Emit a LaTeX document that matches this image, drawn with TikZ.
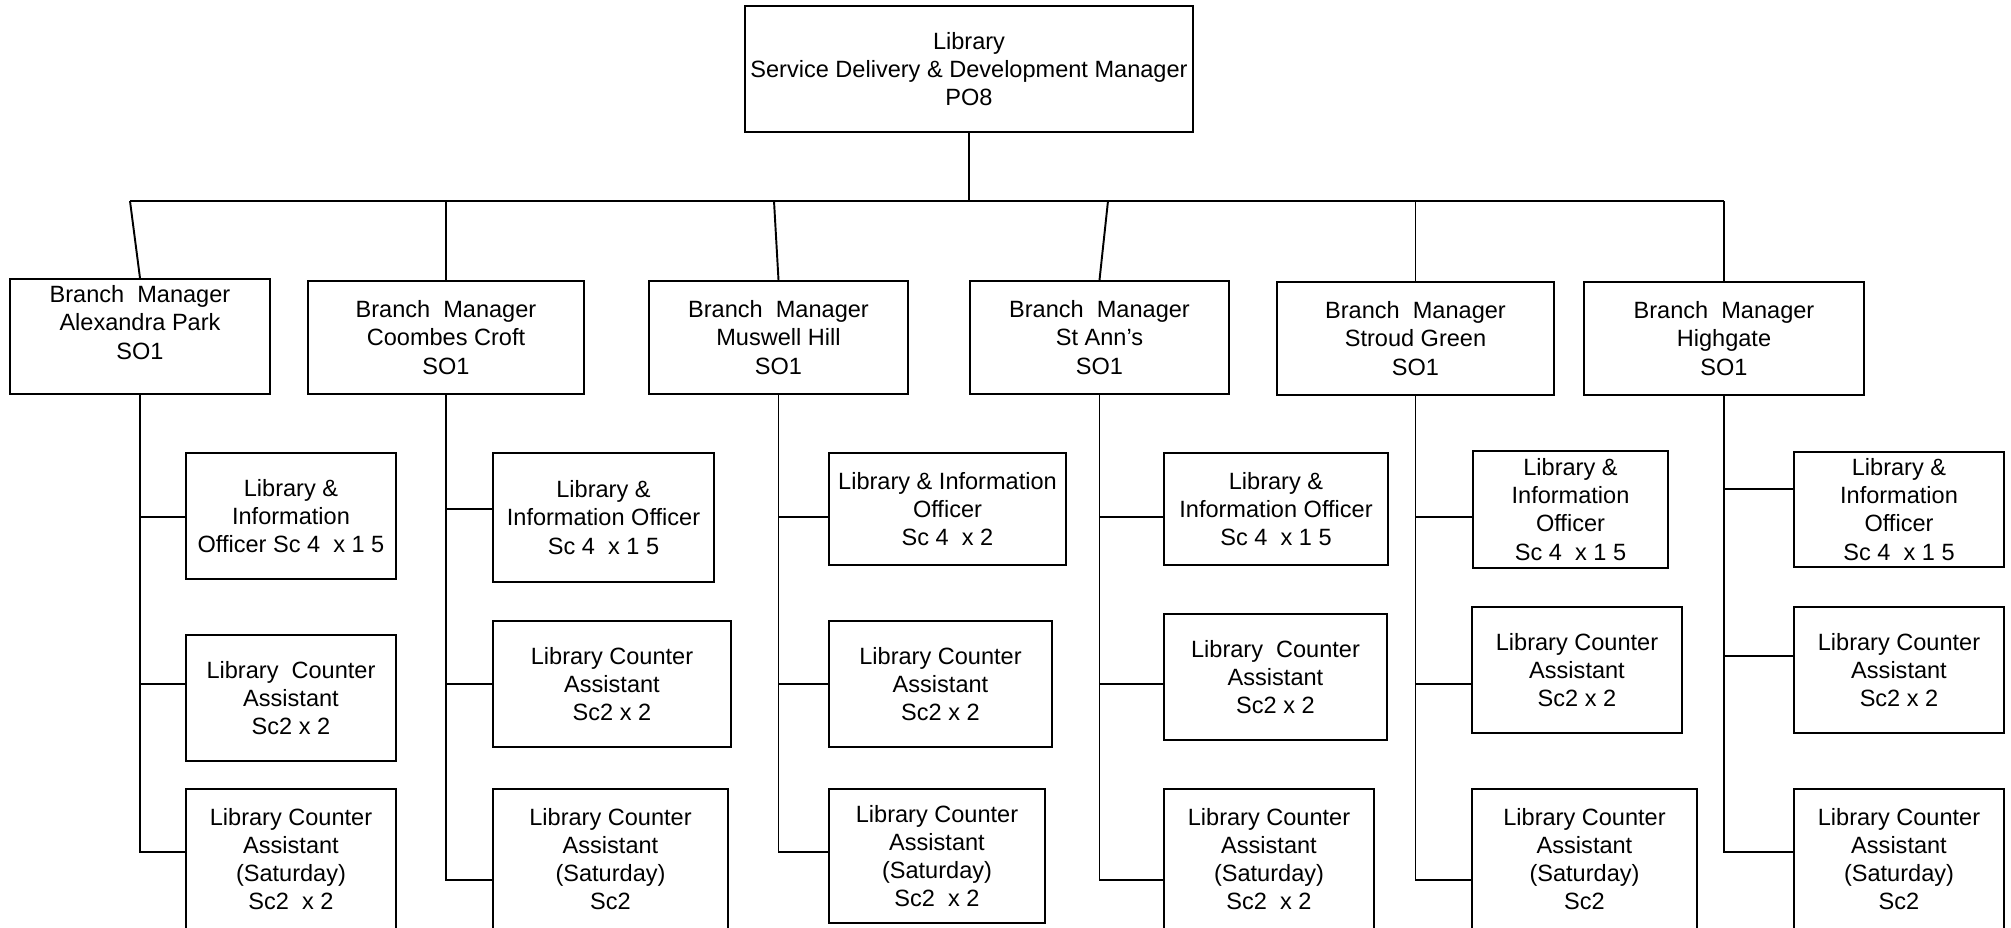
\documentclass[tikz,border=0pt]{standalone}
\usepackage{fontspec}
\setmainfont{Liberation Sans}
\begin{document}
\begin{tikzpicture}[
        post/.style={draw, line width=0.55pt, align=center, inner sep=0pt,
            font=\fontsize{6.7pt}{8pt}\selectfont},
        link/.style={line width=0.55pt}]
        \useasboundingbox (0,0) rectangle (20.11,-9.28);
        \clip (0,0) rectangle (20.11,-9.28);

        % top post
        \node [post, minimum width=4.48cm, minimum height=1.26cm] (lib) at (9.69,-0.69)
            {Library\\Service Delivery \& Development Manager\\PO8};

        % branch managers
        \node [post, minimum width=2.60cm, minimum height=1.15cm] (b1) at (1.40,-3.365)
            {Branch\ \ Manager\\Alexandra Park\\SO1\\\mbox{}};
        \node [post, minimum width=2.76cm, minimum height=1.13cm] (b2) at (4.46,-3.375)
            {Branch\ \ Manager\\Coombes Croft\\SO1};
        \node [post, minimum width=2.59cm, minimum height=1.13cm] (b3) at (7.785,-3.375)
            {Branch\ \ Manager\\Muswell Hill\\SO1};
        \node [post, minimum width=2.59cm, minimum height=1.13cm] (b4) at (10.995,-3.375)
            {Branch\ \ Manager\\St Ann’s\\SO1};
        \node [post, minimum width=2.77cm, minimum height=1.13cm] (b5) at (14.155,-3.385)
            {Branch\ \ Manager\\Stroud Green\\SO1};
        \node [post, minimum width=2.80cm, minimum height=1.13cm] (b6) at (17.24,-3.385)
            {Branch\ \ Manager\\Highgate\\SO1};

        % Alexandra Park
        \node [post, minimum width=2.10cm, minimum height=1.26cm] (l1) at (2.91,-5.16)
            {Library \&\\Information\\Officer Sc 4\ \ x 1 5};
        \node [post, minimum width=2.10cm, minimum height=1.26cm] (c1) at (2.91,-6.98)
            {Library\ \ Counter\\Assistant\\Sc2 x 2};
        \node [post, minimum width=2.10cm, minimum height=1.68cm] (s1) at (2.91,-8.73)
            {Library Counter\\Assistant\\(Saturday)\\Sc2\ \ x 2\\\mbox{}};

        % Coombes Croft
        \node [post, minimum width=2.21cm, minimum height=1.29cm] (l2) at (6.035,-5.175)
            {Library \&\\Information Officer\\Sc 4\ \ x 1 5};
        \node [post, minimum width=2.38cm, minimum height=1.26cm] (c2) at (6.12,-6.84)
            {Library Counter\\Assistant\\Sc2 x 2};
        \node [post, minimum width=2.35cm, minimum height=1.68cm] (s2) at (6.105,-8.73)
            {Library Counter\\Assistant\\(Saturday)\\Sc2\\\mbox{}};

        % Muswell Hill
        \node [post, minimum width=2.37cm, minimum height=1.12cm] (l3) at (9.475,-5.09)
            {Library \& Information\\Officer\\Sc 4\ \ x 2};
        \node [post, minimum width=2.23cm, minimum height=1.26cm] (c3) at (9.405,-6.84)
            {Library Counter\\Assistant\\Sc2 x 2};
        \node [post, minimum width=2.16cm, minimum height=1.34cm] (s3) at (9.37,-8.56)
            {Library Counter\\Assistant\\(Saturday)\\Sc2\ \ x 2};

        % St Ann's
        \node [post, minimum width=2.24cm, minimum height=1.12cm] (l4) at (12.76,-5.09)
            {Library \&\\Information Officer\\Sc 4\ \ x 1 5};
        \node [post, minimum width=2.23cm, minimum height=1.26cm] (c4) at (12.755,-6.77)
            {Library\ \ Counter\\Assistant\\Sc2 x 2};
        \node [post, minimum width=2.10cm, minimum height=1.68cm] (s4) at (12.69,-8.73)
            {Library Counter\\Assistant\\(Saturday)\\Sc2\ \ x 2\\\mbox{}};

        % Stroud Green
        \node [post, minimum width=1.95cm, minimum height=1.17cm] (l5) at (15.705,-5.095)
            {Library \&\\Information\\Officer\\Sc 4\ \ x 1 5};
        \node [post, minimum width=2.10cm, minimum height=1.26cm] (c5) at (15.77,-6.70)
            {Library Counter\\Assistant\\Sc2 x 2};
        \node [post, minimum width=2.25cm, minimum height=1.68cm] (s5) at (15.845,-8.73)
            {Library Counter\\Assistant\\(Saturday)\\Sc2\\\mbox{}};

        % Highgate
        \node [post, minimum width=2.10cm, minimum height=1.15cm] (l6) at (18.99,-5.095)
            {Library \&\\Information\\Officer\\Sc 4\ \ x 1 5};
        \node [post, minimum width=2.10cm, minimum height=1.26cm] (c6) at (18.99,-6.70)
            {Library Counter\\Assistant\\Sc2 x 2};
        \node [post, minimum width=2.10cm, minimum height=1.68cm] (s6) at (18.99,-8.73)
            {Library Counter\\Assistant\\(Saturday)\\Sc2\\\mbox{}};

        % bus
        \coordinate (j1) at (1.30,-2.01);
        \coordinate (j2) at (4.46,-2.01);
        \coordinate (j3) at (7.74,-2.01);
        \coordinate (j4) at (11.08,-2.01);
        \coordinate (j5) at (14.155,-2.01);
        \coordinate (j6) at (17.24,-2.01);
        \draw [link] (lib.south)--(lib.south |- j1);
        \draw [link] (j1)--(j6);
        \foreach \j/\b in {j1/b1,j2/b2,j3/b3,j4/b4,j5/b5,j6/b6}
            \draw [link] (\j)--(\b.north);

        % branch staff
        \foreach \b/\c/\y in {b1/l1/5.17,b1/c1/6.84,b1/s1/8.52,
                              b2/l2/5.09,b2/c2/6.84,b2/s2/8.80,
                              b3/l3/5.17,b3/c3/6.84,b3/s3/8.52,
                              b4/l4/5.17,b4/c4/6.84,b4/s4/8.80,
                              b5/l5/5.17,b5/c5/6.84,b5/s5/8.80,
                              b6/l6/4.89,b6/c6/6.56,b6/s6/8.52}
            \draw [link] (\b.south) |- (\c.west |- 0,-\y);
    \end{tikzpicture}
\end{document}
